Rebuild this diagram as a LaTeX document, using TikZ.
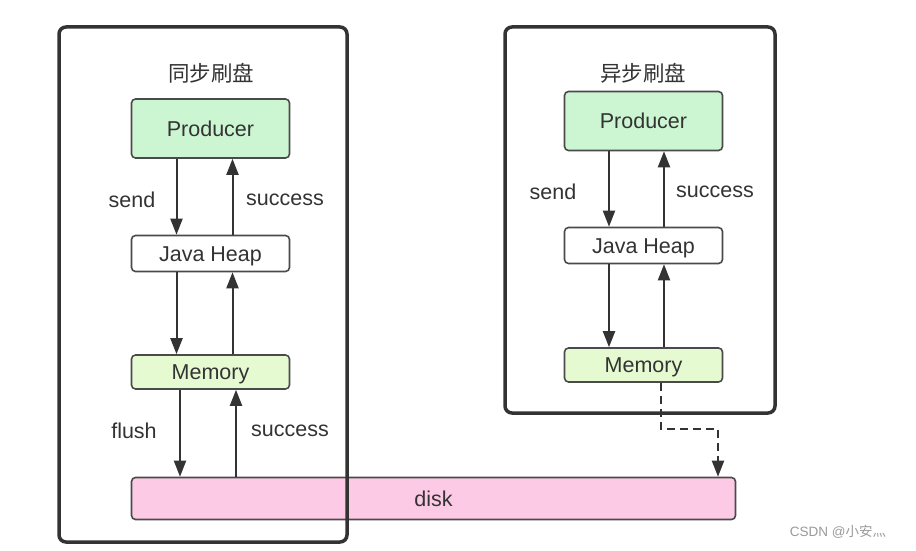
\documentclass[tikz,border=0pt]{standalone}
\usepackage{fontspec}
\setmainfont{Liberation Sans}
\newfontfamily\cjk{Noto Sans CJK SC}
\usetikzlibrary{arrows.meta}
\definecolor{ink}{HTML}{333333}
\definecolor{edge}{HTML}{4A4A4A}
\definecolor{prodfill}{HTML}{CCF5D2}
\definecolor{memfill}{HTML}{E6FAD2}
\definecolor{diskfill}{HTML}{FDCAE6}
\definecolor{wm}{HTML}{9A9A9A}
\begin{document}
\begin{tikzpicture}[x=1pt,y=-1pt,
  txt/.style={font=\fontsize{21.5}{25}\selectfont, text=ink},
  boxbase/.style={draw=edge, line width=1.6pt, rounded corners=4pt, inner sep=0pt, anchor=center, txt, text height=15.4pt, text depth=0pt},
  prodbox/.style={boxbase, fill=prodfill, minimum width=158pt, minimum height=59pt},
  heapbox/.style={boxbase, fill=white, minimum width=158pt, minimum height=36pt},
  membox/.style={boxbase, fill=memfill, minimum width=158pt, minimum height=34pt},
  diskbox/.style={boxbase, fill=diskfill, minimum width=604pt, minimum height=42pt},
  frame/.style={draw=ink, line width=3.5pt, rounded corners=7pt},
  arr/.style={draw=ink, line width=2pt, -{Triangle[length=16pt,width=12pt]}},
  dasharr/.style={arr, dash pattern=on 8pt off 5pt},
  lbl/.style={txt, inner sep=0pt},
  ttl/.style={font=\cjk\fontsize{21.5}{25}\selectfont, text=ink, inner sep=0pt}
]
\useasboundingbox (0,0) rectangle (916,551);
\fill[white] (0,0) rectangle (916,551);

% disk
\node[diskbox] (disk) at (433.5,498.5) {disk};

% left column
\node[ttl] (titleL) at (211,73) {同步刷盘};
\node[prodbox] (prodL) at (210.5,128.5) {Producer};
\node[heapbox] (heapL) at (210.5,253.5) {Java Heap};
\node[membox] (memL) at (210.5,372) {Memory};

% right column
\node[ttl] (titleR) at (643,73) {异步刷盘};
\node[prodbox] (prodR) at (643.5,121) {Producer};
\node[heapbox] (heapR) at (643.5,245.5) {Java Heap};
\node[membox] (memR) at (643.5,365) {Memory};

% x positions of arrows
\coordinate (dL) at (176.5,0);
\coordinate (uL) at (232.5,0);
\coordinate (dL2) at (180,0);
\coordinate (uL2) at (236,0);
\coordinate (dR) at (609,0);
\coordinate (uR) at (664,0);
\coordinate (bend1) at (661,429);
\coordinate (bend2) at (718,429);

% left arrows
\draw[arr] (prodL.south -| dL) -- (heapL.north -| dL);
\draw[arr] (heapL.north -| uL) -- (prodL.south -| uL);
\draw[arr] (heapL.south -| dL) -- (memL.north -| dL);
\draw[arr] (memL.north -| uL) -- (heapL.south -| uL);
\draw[arr] (memL.south -| dL2) -- (disk.north -| dL2);
\draw[arr] (disk.north -| uL2) -- (memL.south -| uL2);

% right arrows
\draw[arr] (prodR.south -| dR) -- (heapR.north -| dR);
\draw[arr] (heapR.north -| uR) -- (prodR.south -| uR);
\draw[arr] (heapR.south -| dR) -- (memR.north -| dR);
\draw[arr] (memR.north -| uR) -- (heapR.south -| uR);
\draw[dasharr] (memR.south -| bend1) -- (bend1) -- (bend2) -- (disk.north -| bend2);

% labels
\node[lbl] (sendL) at (132,200) {send};
\node[lbl] (succL) at (285,200) {success};
\node[lbl] (flushL) at (134,431) {flush};
\node[lbl] (succL2) at (290,431) {success};
\node[lbl] (sendR) at (553,192) {send};
\node[lbl] (succR) at (715,192) {success};

% frames
\draw[frame] (59,27) rectangle (347,542);
\draw[frame] (505,27) rectangle (775,413);

% watermark
\node[font=\fontsize{13.5}{16}\selectfont, text=wm, inner sep=0pt] (wmark) at (838,532) {CSDN @{\cjk 小安灬}};
\end{tikzpicture}
\end{document}
